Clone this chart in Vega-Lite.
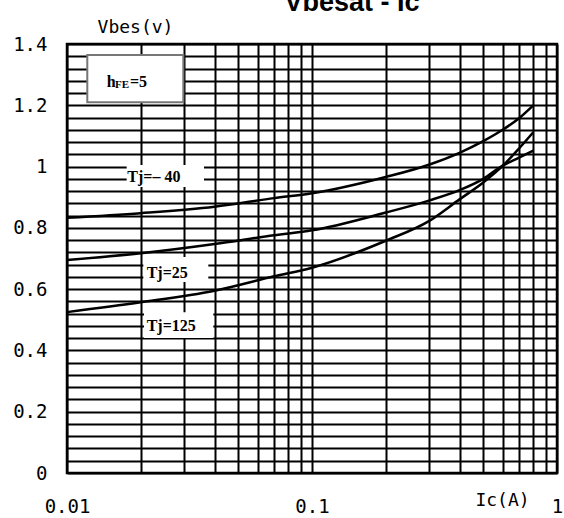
{
  "$schema": "https://vega.github.io/schema/vega-lite/v6.json",
  "width": 490,
  "height": 429,
  "autosize": {"type": "none"},
  "padding": {"left": 67, "top": 44, "right": 7, "bottom": 45},
  "background": "white",
  "title": {
    "text": "Vbesat - Ic",
    "frame": "group",
    "anchor": "start",
    "align": "center",
    "dx": 285,
    "offset": -20,
    "baseline": "alphabetic",
    "font": "Liberation Sans",
    "fontSize": 27,
    "fontWeight": "bold",
    "color": "black"
  },
  "config": {
    "view": {"stroke": "black", "strokeWidth": 2.5},
    "axis": {
      "labelFont": "DejaVu Sans Mono",
      "labelFontSize": 19,
      "labelColor": "black",
      "titleFont": "DejaVu Sans Mono",
      "titleFontSize": 18,
      "titleFontWeight": "normal",
      "titleColor": "black",
      "grid": true,
      "gridColor": "black",
      "gridOpacity": 1,
      "gridWidth": 2,
      "ticks": false,
      "tickSize": 0,
      "domain": false,
      "labelOverlap": false,
      "labelFlush": false,
      "labelBound": false
    }
  },
  "datasets": {
    "curves": [
      {"Ic": 0.01, "V": 0.833, "series": "Tj=-40"},
      {"Ic": 0.02, "V": 0.848, "series": "Tj=-40"},
      {"Ic": 0.04, "V": 0.869, "series": "Tj=-40"},
      {"Ic": 0.07, "V": 0.897, "series": "Tj=-40"},
      {"Ic": 0.1, "V": 0.913, "series": "Tj=-40"},
      {"Ic": 0.2, "V": 0.966, "series": "Tj=-40"},
      {"Ic": 0.3, "V": 1.006, "series": "Tj=-40"},
      {"Ic": 0.4, "V": 1.045, "series": "Tj=-40"},
      {"Ic": 0.5, "V": 1.083, "series": "Tj=-40"},
      {"Ic": 0.6, "V": 1.12, "series": "Tj=-40"},
      {"Ic": 0.7, "V": 1.158, "series": "Tj=-40"},
      {"Ic": 0.8, "V": 1.2, "series": "Tj=-40"},
      {"Ic": 0.01, "V": 0.695, "series": "Tj=25"},
      {"Ic": 0.02, "V": 0.717, "series": "Tj=25"},
      {"Ic": 0.04, "V": 0.747, "series": "Tj=25"},
      {"Ic": 0.07, "V": 0.776, "series": "Tj=25"},
      {"Ic": 0.1, "V": 0.792, "series": "Tj=25"},
      {"Ic": 0.2, "V": 0.85, "series": "Tj=25"},
      {"Ic": 0.3, "V": 0.889, "series": "Tj=25"},
      {"Ic": 0.4, "V": 0.923, "series": "Tj=25"},
      {"Ic": 0.5, "V": 0.96, "series": "Tj=25"},
      {"Ic": 0.6, "V": 1.003, "series": "Tj=25"},
      {"Ic": 0.7, "V": 1.029, "series": "Tj=25"},
      {"Ic": 0.8, "V": 1.052, "series": "Tj=25"},
      {"Ic": 0.01, "V": 0.525, "series": "Tj=125"},
      {"Ic": 0.02, "V": 0.557, "series": "Tj=125"},
      {"Ic": 0.04, "V": 0.595, "series": "Tj=125"},
      {"Ic": 0.07, "V": 0.642, "series": "Tj=125"},
      {"Ic": 0.1, "V": 0.67, "series": "Tj=125"},
      {"Ic": 0.2, "V": 0.758, "series": "Tj=125"},
      {"Ic": 0.3, "V": 0.822, "series": "Tj=125"},
      {"Ic": 0.4, "V": 0.893, "series": "Tj=125"},
      {"Ic": 0.5, "V": 0.948, "series": "Tj=125"},
      {"Ic": 0.6, "V": 1.002, "series": "Tj=125"},
      {"Ic": 0.7, "V": 1.059, "series": "Tj=125"},
      {"Ic": 0.8, "V": 1.112, "series": "Tj=125"}
    ],
    "boxes": [
      {"Ic": 0.0121, "Ic2": 0.02984, "V": 1.364, "V2": 1.21, "kind": "hFE"},
      {"Ic": 0.01752, "Ic2": 0.03624, "V": 1.005, "V2": 0.933, "kind": "Tj"},
      {"Ic": 0.02049, "Ic2": 0.03774, "V": 0.705, "V2": 0.623, "kind": "Tj"},
      {"Ic": 0.02062, "Ic2": 0.03955, "V": 0.525, "V2": 0.4405, "kind": "Tj"}
    ],
    "labels": [
      {"Ic": 0.01453, "V": 1.2606, "text": "h"},
      {"Ic": 0.01806, "V": 1.2606, "text": "=5"},
      {"Ic": 0.01762, "V": 0.9506, "text": "Tj=– 40"},
      {"Ic": 0.02115, "V": 0.637, "text": "Tj=25"},
      {"Ic": 0.02115, "V": 0.4633, "text": "Tj=125"}
    ],
    "subs": [
      {"Ic": 0.0157, "V": 1.2548, "text": "FE"}
    ]
  },
  "encoding": {
    "x": {
      "field": "Ic",
      "type": "quantitative",
      "scale": {"type": "log", "domain": [0.01, 1], "nice": false},
      "axis": {
        "orient": "bottom",
        "values": [0.01, 0.02, 0.03, 0.04, 0.05, 0.06, 0.07, 0.08, 0.09, 0.1, 0.2, 0.3, 0.4, 0.5, 0.6, 0.7, 0.8, 0.9, 1],
        "labelExpr": "datum.value == 0.01 ? '0.01' : (datum.value == 0.1 ? '0.1' : (datum.value == 1 ? '1' : ''))",
        "labelPadding": 24,
        "title": "Ic(A)",
        "titleX": 435,
        "titleY": 27,
        "titleAlign": "center",
        "titleBaseline": "middle",
        "titleAnchor": null
      }
    },
    "y": {
      "field": "V",
      "type": "quantitative",
      "scale": {"domain": [0, 1.4], "nice": false, "zero": true},
      "axis": {
        "orient": "left",
        "values": [0, 0.04, 0.08, 0.12, 0.16, 0.2, 0.24, 0.28, 0.32, 0.36, 0.4, 0.44, 0.48, 0.52, 0.56, 0.6, 0.64, 0.68, 0.72, 0.76, 0.8, 0.84, 0.88, 0.92, 0.96, 1, 1.04, 1.08, 1.12, 1.16, 1.2, 1.24, 1.28, 1.32, 1.36, 1.4],
        "labelExpr": "abs(datum.value * 5 - round(datum.value * 5)) < 0.001 ? format(datum.value, '~g') : ''",
        "labelPadding": 20,
        "title": "Vbes(v)",
        "titleAngle": 0,
        "titleX": 68,
        "titleY": -17,
        "titleAlign": "center",
        "titleBaseline": "middle",
        "titleAnchor": null
      }
    }
  },
  "layer": [
    {
      "data": {"name": "boxes"},
      "transform": [{"filter": "datum.kind == 'hFE'"}],
      "mark": {"type": "rect", "fill": "white", "stroke": "#777777", "strokeWidth": 2},
      "encoding": {"x2": {"field": "Ic2"}, "y2": {"field": "V2"}}
    },
    {
      "data": {"name": "boxes"},
      "transform": [{"filter": "datum.kind == 'Tj'"}],
      "mark": {"type": "rect", "fill": "white", "strokeWidth": 0},
      "encoding": {"x2": {"field": "Ic2"}, "y2": {"field": "V2"}}
    },
    {
      "data": {"name": "curves"},
      "mark": {"type": "line", "color": "black", "strokeWidth": 2.5, "interpolate": "monotone"},
      "encoding": {"detail": {"field": "series"}}
    },
    {
      "data": {"name": "labels"},
      "mark": {"type": "text", "align": "left", "baseline": "alphabetic", "font": "Liberation Serif", "fontSize": 16, "fontWeight": "bold", "color": "black"},
      "encoding": {"text": {"field": "text"}}
    },
    {
      "data": {"name": "subs"},
      "mark": {"type": "text", "align": "left", "baseline": "alphabetic", "font": "Liberation Serif", "fontSize": 11, "fontWeight": "bold", "color": "black"},
      "encoding": {"text": {"field": "text"}}
    }
  ]
}
